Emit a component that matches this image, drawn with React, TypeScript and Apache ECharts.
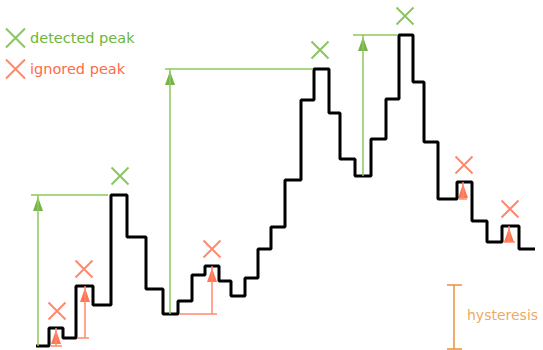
import React, { useEffect, useRef } from "react";
import * as echarts from "echarts";

// Step signal: start of each step (sample position) and its level
const stepX = [0, 13, 27, 40, 57, 75, 91, 110, 127, 142, 156, 169, 183, 195, 209, 222, 235, 249, 265, 278, 293, 304, 319, 335, 350, 363, 377, 388, 402, 421, 436, 451, 466, 483, 499];
const signal = [4, 22, 12, 64, 45, 155, 113, 61, 36, 49, 75, 84, 69, 54, 72, 101, 123, 170, 250, 281, 237, 191, 174, 211, 251, 315, 268, 208, 151, 168, 129, 108, 124, 101, 101];

// Detected peaks
const detectedX = [84, 284, 369];
const detectedLevel = [155, 281, 315];
const detectedArrowX = [2, 134, 327];
const detectedBase = [4, 36, 174];
const detectedLineFrom = [-5, 129, 317];
const detectedLineTo = [72, 277, 361];

// Ignored peaks
const ignoredX = [21, 48, 176, 428, 474];
const ignoredLevel = [22, 64, 84, 168, 124];
const ignoredArrowX = [20, 49, 176, 427, 473];
const ignoredBase = [4, 12, 36, 151, 108];
const ignoredLineFrom = [15, 41, 144, 423, 468];
const ignoredLineTo = [26, 53, 181, 431, 479];

// Hysteresis scale
const hysteresisX = 418;
const hysteresisLow = 1;
const hysteresisHigh = 65;
const hysteresisLabelX = 431;
const hysteresisLabelY = 35;

const GREEN_X = "#6db63a";
const GREEN_LINE = "#8dc85a";
const GREEN_HEAD = "#55a01a";
const RED_X = "#ff6a48";
const RED_LINE = "#ff8a6e";
const RED_HEAD = "#ff5428";
const ORANGE = "#e8923c";
const FONT = "DejaVu Sans";

const X_PATH = "path://M0,0L10,10M10,0L0,10";

export default function App() {
  const ref = useRef<HTMLDivElement>(null);
  useEffect(() => {
    if (!ref.current) return;
    const chart = echarts.init(ref.current, null, { renderer: "svg" });

    const seg = (x1: number, y1: number, x2: number, y2: number, color: string) => [
      { coord: [x1, y1], lineStyle: { color, width: 1.5, type: "solid" } },
      { coord: [x2, y2] },
    ];
    const annotations: any[] = [];
    detectedArrowX.forEach((x, i) => {
      annotations.push(seg(x, detectedBase[i], x, detectedLevel[i], GREEN_LINE));
      annotations.push(seg(detectedLineFrom[i], detectedLevel[i], detectedLineTo[i], detectedLevel[i], GREEN_LINE));
    });
    ignoredArrowX.forEach((x, i) => {
      annotations.push(seg(x, ignoredBase[i], x, ignoredLevel[i], RED_LINE));
      annotations.push(seg(ignoredLineFrom[i], ignoredBase[i], ignoredLineTo[i], ignoredBase[i], RED_LINE));
    });
    annotations.push(seg(hysteresisX, hysteresisLow, hysteresisX, hysteresisHigh, ORANGE));
    annotations.push(seg(hysteresisX - 7, hysteresisLow, hysteresisX + 8, hysteresisLow, ORANGE));
    annotations.push(seg(hysteresisX - 7, hysteresisHigh, hysteresisX + 8, hysteresisHigh, ORANGE));

    chart.setOption({
      animation: false,
      grid: { left: 0, right: 0, top: 0, bottom: 0 },
      xAxis: { type: "value", min: -36, max: 507, show: false },
      yAxis: { type: "value", min: 0, max: 350, show: false },
      legend: {
        orient: "vertical",
        left: 5,
        top: 27.5,
        itemWidth: 19,
        itemHeight: 19,
        itemGap: 10,
        padding: 0,
        textStyle: { fontFamily: FONT, fontSize: 14.5 },
        data: [
          { name: "detected peak", textStyle: { color: GREEN_X } },
          { name: "ignored peak", textStyle: { color: RED_X } },
        ],
      },
      series: [
        {
          name: "annotations",
          type: "line",
          data: [],
          z: 1,
          silent: true,
          markLine: {
            silent: true,
            animation: false,
            symbol: ["none", "none"],
            label: { show: false },
            data: annotations,
          },
        },
        {
          name: "signal",
          type: "line",
          step: "end",
          z: 3,
          showSymbol: false,
          symbol: "none",
          lineStyle: { color: "#000", width: 3 },
          data: stepX.map((x, i) => [x, signal[i]]),
        },
        {
          name: "detected heads",
          type: "scatter",
          z: 2,
          symbol: "triangle",
          symbolSize: [10, 14],
          symbolOffset: [0, 9],
          itemStyle: { color: GREEN_HEAD },
          data: detectedArrowX.map((x, i) => [x, detectedLevel[i]]),
        },
        {
          name: "ignored heads",
          type: "scatter",
          z: 2,
          symbol: "triangle",
          symbolSize: [10, 14],
          symbolOffset: [0, 9],
          itemStyle: { color: RED_HEAD },
          data: ignoredArrowX.map((x, i) => [x, ignoredLevel[i]]),
        },
        {
          name: "detected peak",
          type: "scatter",
          z: 4,
          symbol: X_PATH,
          symbolSize: 17,
          symbolOffset: [0, -19],
          itemStyle: { color: "transparent", borderColor: GREEN_X, borderWidth: 2 },
          data: detectedX.map((x, i) => [x, detectedLevel[i]]),
        },
        {
          name: "ignored peak",
          type: "scatter",
          z: 4,
          symbol: X_PATH,
          symbolSize: 17,
          symbolOffset: [0, -17],
          itemStyle: { color: "transparent", borderColor: RED_X, borderWidth: 2 },
          data: ignoredX.map((x, i) => [x, ignoredLevel[i]]),
        },
        {
          name: "hysteresis label",
          type: "scatter",
          symbolSize: 0,
          silent: true,
          label: {
            show: true,
            position: "right",
            distance: 0,
            formatter: "hysteresis",
            color: ORANGE,
            fontFamily: FONT,
            fontSize: 14,
          },
          data: [[hysteresisLabelX, hysteresisLabelY]],
        },
      ],
    });
    return () => chart.dispose();
  }, []);
  return (
    <div
      ref={ref}
      style={{ position: "fixed", left: 0, top: 0, width: 543, height: 350, background: "#fff" }}
    />
  );
}
